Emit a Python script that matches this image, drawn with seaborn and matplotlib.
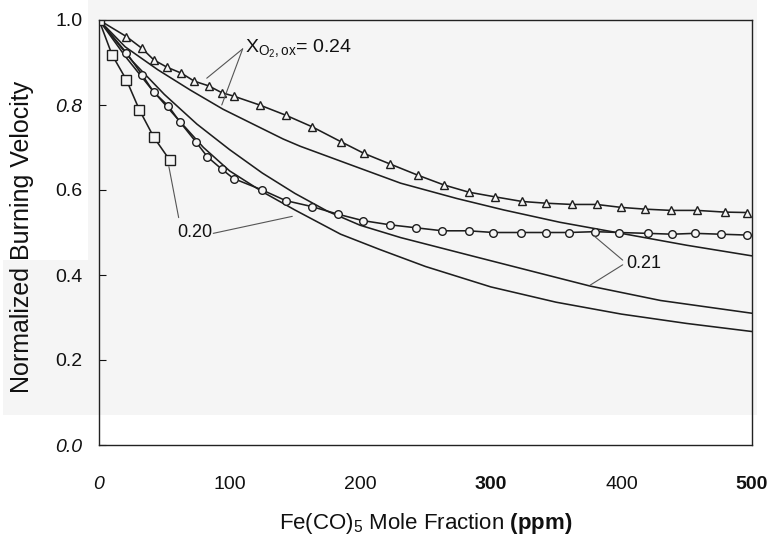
import matplotlib
matplotlib.use("Agg")
import matplotlib.pyplot as plt
from matplotlib.patches import Rectangle
import seaborn as sns
import pandas as pd

# ---------------- data ----------------
sq_x = [0, 10, 21, 31, 42, 54]
sq_y = [1.0, 0.918, 0.859, 0.788, 0.724, 0.671]

circ_x = [0, 21, 33, 42, 53, 62, 74, 83, 94, 103, 125, 143, 163, 183, 202, 223,
          243, 263, 283, 302, 323, 342, 360, 380, 398, 420, 439, 456, 476, 496]
circ_y = [1.0, 0.923, 0.871, 0.830, 0.798, 0.760, 0.714, 0.678, 0.649, 0.627,
          0.600, 0.575, 0.561, 0.543, 0.528, 0.518, 0.511, 0.504, 0.504, 0.500,
          0.500, 0.500, 0.500, 0.502, 0.500, 0.498, 0.496, 0.498, 0.496, 0.494]

tri_x = [0, 21, 33, 42, 52, 63, 73, 84, 94, 103, 123, 143, 163, 185, 203, 223,
         244, 264, 283, 303, 324, 342, 362, 381, 400, 418, 438, 458, 479, 496]
tri_y = [1.0, 0.961, 0.933, 0.906, 0.889, 0.875, 0.856, 0.845, 0.829, 0.821,
         0.800, 0.776, 0.749, 0.714, 0.686, 0.661, 0.635, 0.612, 0.595, 0.584,
         0.573, 0.569, 0.566, 0.566, 0.559, 0.555, 0.552, 0.552, 0.548, 0.547]

m24_x = [0, 20, 45, 70, 95, 116, 141, 154, 192, 231, 274, 310, 353, 407, 450, 500]
m24_y = [1.0, 0.937, 0.883, 0.835, 0.790, 0.758, 0.720, 0.703, 0.660, 0.616,
         0.580, 0.553, 0.524, 0.494, 0.470, 0.445]

m21_x = [0, 25, 50, 75, 100, 125, 150, 175, 200, 231, 288, 353, 376, 430, 500]
m21_y = [1.0, 0.905, 0.825, 0.755, 0.695, 0.640, 0.592, 0.550, 0.517, 0.488,
         0.443, 0.392, 0.374, 0.340, 0.310]

m20_x = [0, 20, 40, 60, 80, 100, 125, 150, 185, 215, 250, 300, 350, 400, 450, 500]
m20_y = [1.0, 0.915, 0.838, 0.768, 0.700, 0.645, 0.596, 0.553, 0.496, 0.460,
         0.420, 0.372, 0.336, 0.308, 0.286, 0.267]

x_ticks = [0, 100, 200, 300, 400, 500]
x_ticklabels = ["0", "100", "200", "300", "400", "500"]
y_ticks = [0.0, 0.2, 0.4, 0.6, 0.8, 1.0]
y_ticklabels = ["0.0", "0.2", "0.4", "0.6", "0.8", "1.0"]

# ---------------- style ----------------
sns.set_theme(style="white")
plt.rcParams["font.family"] = ["Liberation Sans", "DejaVu Sans"]
plt.rcParams["mathtext.fontset"] = "custom"
plt.rcParams["mathtext.rm"] = "Liberation Sans"
plt.rcParams["mathtext.it"] = "Liberation Sans:italic"
plt.rcParams["mathtext.bf"] = "Liberation Sans:bold"

fig = plt.figure(figsize=(7.75, 5.4), dpi=100)
fig.patch.set_facecolor("white")
bg = (0.962, 0.962, 0.962)
fig.patches.append(Rectangle((88 / 775, 1 - 415 / 540), (757 - 88) / 775, 415 / 540,
                             transform=fig.transFigure, facecolor=bg, edgecolor="none", zorder=-10))
fig.patches.append(Rectangle((3 / 775, 1 - 415 / 540), 85 / 775, 155 / 540,
                             transform=fig.transFigure, facecolor=bg, edgecolor="none", zorder=-10))

ax = fig.add_axes([99 / 775, 1 - 445 / 540, 653 / 775, 425 / 540])
ax.set_facecolor("none")
ax.set_zorder(1)

line_c = "#1e1e1e"
lw = 1.15

# model curves (no markers)
for xs, ys in [(m24_x, m24_y), (m21_x, m21_y), (m20_x, m20_y)]:
    sns.lineplot(x=xs, y=ys, ax=ax, color=line_c, linewidth=lw, sort=False,
                 estimator=None, legend=False)

# data series with open markers
sns.lineplot(x=tri_x, y=tri_y, ax=ax, color=line_c, linewidth=lw, sort=False,
             estimator=None, marker="^", markersize=5.5, markerfacecolor=bg,
             markeredgecolor=line_c, markeredgewidth=1.0, legend=False)
sns.lineplot(x=circ_x, y=circ_y, ax=ax, color=line_c, linewidth=lw, sort=False,
             estimator=None, marker="o", markersize=5.5, markerfacecolor=bg,
             markeredgecolor=line_c, markeredgewidth=1.0, legend=False)
sns.lineplot(x=sq_x, y=sq_y, ax=ax, color=line_c, linewidth=lw, sort=False,
             estimator=None, marker="s", markersize=7.5, markerfacecolor=bg,
             markeredgecolor=line_c, markeredgewidth=1.0, legend=False)

ax.set_xlim(0, 500)
ax.set_ylim(0, 1.0)
for s in ax.spines.values():
    s.set_visible(True)
    s.set_color("#222222")
    s.set_linewidth(1.0)

ax.set_xticks(x_ticks)
ax.set_xticklabels(x_ticklabels)
ax.set_yticks(y_ticks)
ax.set_yticklabels(y_ticklabels)
ax.tick_params(axis="x", length=0, pad=22, labelsize=14, colors="#111111")
ax.tick_params(axis="y", direction="in", length=5, width=0.8, pad=12,
               labelsize=14, colors="#111111", left=True)
for lab in ax.get_xticklabels():
    if lab.get_text() == "0":
        lab.set_style("italic")
    if lab.get_text() in ("300", "500"):
        lab.set_fontweight("bold")
for lab in ax.get_yticklabels():
    if lab.get_text() in ("0.0", "0.8"):
        lab.set_style("italic")

ax.set_ylabel("Normalized Burning Velocity", fontsize=18, color="#111111")
ax.yaxis.set_label_coords(-0.10, 0.49)
ax.set_xlabel(r"Fe(CO)$_5$ Mole Fraction $\mathbf{(ppm)}$", fontsize=16, color="#111111")
ax.xaxis.set_label_coords(0.5, -0.155)

# annotations
gray = "#555555"
ax.text(112, 0.922, r"X$_{\mathregular{O_2,ox}}$= 0.24", fontsize=14, color="#111111",
        va="baseline", ha="left")
ax.plot([110, 82.5], [0.932, 0.863], color=gray, lw=0.8)
ax.plot([110, 94.0], [0.932, 0.800], color=gray, lw=0.8)

ax.text(60, 0.501, "0.20", fontsize=13, color="#111111", va="center", ha="left")
ax.plot([87.5, 148], [0.498, 0.538], color=gray, lw=0.8)
ax.plot([61, 53.5], [0.535, 0.655], color=gray, lw=0.8)

ax.text(404, 0.426, "0.21", fontsize=13, color="#111111", va="center", ha="left")
ax.plot([401, 379], [0.435, 0.492], color=gray, lw=0.8)
ax.plot([401, 376], [0.424, 0.376], color=gray, lw=0.8)

fig.savefig("out.png", dpi=100)
